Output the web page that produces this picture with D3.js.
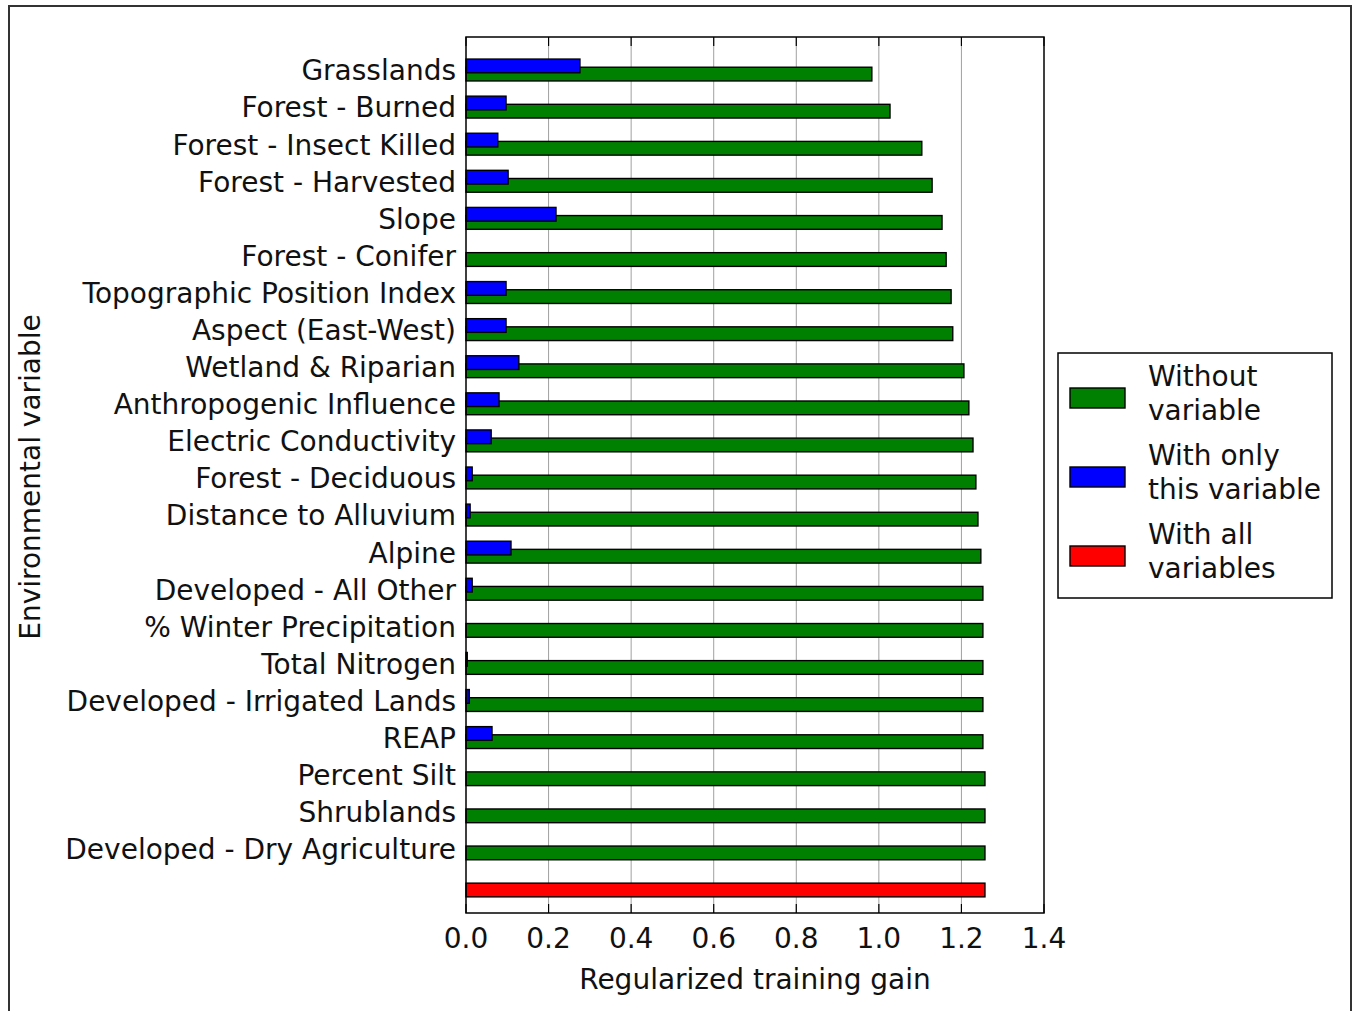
<!DOCTYPE html>
<html>
<head>
<meta charset="utf-8">
<script src="https://cdn.jsdelivr.net/npm/d3@7"></script>
<style>
  body { margin: 0; background: #fff; }
  text { font-family: "DejaVu Sans", sans-serif; fill: #111; }
</style>
</head>
<body>
<svg id="chart" width="1354" height="1011"></svg>
<script>
// variables, du haut vers le bas
const variables = [
  "Grasslands", "Forest - Burned", "Forest - Insect Killed", "Forest - Harvested",
  "Slope", "Forest - Conifer", "Topographic Position Index", "Aspect (East-West)",
  "Wetland & Riparian", "Anthropogenic Influence", "Electric Conductivity",
  "Forest - Deciduous", "Distance to Alluvium", "Alpine", "Developed - All Other",
  "% Winter Precipitation", "Total Nitrogen", "Developed - Irrigated Lands", "REAP",
  "Percent Silt", "Shrublands", "Developed - Dry Agriculture"
];

// gain sans la variable (vert)
const withoutVar = [
  0.983, 1.027, 1.104, 1.129, 1.153, 1.163, 1.175, 1.179, 1.206, 1.218, 1.228,
  1.235, 1.240, 1.247, 1.252, 1.252, 1.252, 1.252, 1.252, 1.257, 1.257, 1.257
];

// gain avec seulement la variable (bleu)
const onlyVar = [
  0.276, 0.097, 0.077, 0.102, 0.218, 0.0, 0.097, 0.097, 0.128, 0.080, 0.061,
  0.015, 0.010, 0.109, 0.015, 0.0, 0.003, 0.008, 0.063, 0.0, 0.0, 0.0
];

// gain avec toutes les variables (rouge)
const allVars = 1.257;

const xTicks = [0.0, 0.2, 0.4, 0.6, 0.8, 1.0, 1.2, 1.4];

const legendItems = [
  { color: "#008000", lines: ["Without", "variable"] },
  { color: "#0000ff", lines: ["With only", "this variable"] },
  { color: "#ff0000", lines: ["With all", "variables"] }
];

const fontSize = "28px";

const svg = d3.select("#chart");

// cadre exterieur de la figure
svg.append("path")
  .attr("d", "M9,1011 V6 H1351 V1011")
  .attr("fill", "none")
  .attr("stroke", "#333")
  .attr("stroke-width", 2);

const pLeft = 466, pRight = 1044, pTop = 37, pBottom = 913;

const x = d3.scaleLinear().domain([0, 1.4]).range([pLeft, pRight]);
const y = d3.scaleLinear().domain([-1, 22.62]).range([pTop, pBottom]);
const barH = y(0.37) - y(0);

const g = svg.append("g");

// grille verticale
g.selectAll(".grid")
  .data(xTicks.slice(1, -1))
  .enter()
  .append("line")
  .attr("x1", d => x(d)).attr("x2", d => x(d))
  .attr("y1", pTop).attr("y2", pBottom)
  .attr("stroke", "#a0a0a0")
  .attr("stroke-width", 1);

// barres vertes
g.selectAll(".green")
  .data(withoutVar)
  .enter()
  .append("rect")
  .attr("x", x(0))
  .attr("y", (d, i) => y(i) - barH / 2)
  .attr("width", d => x(d) - x(0))
  .attr("height", barH)
  .attr("fill", "#008000")
  .attr("stroke", "#000")
  .attr("stroke-width", 1.4);

// barres bleues (on garde l'index d'origine, on saute les zeros)
const blueData = onlyVar.map((v, i) => ({ v: v, i: i })).filter(d => d.v > 0);
g.selectAll(".blue")
  .data(blueData)
  .enter()
  .append("rect")
  .attr("x", x(0))
  .attr("y", d => y(d.i - 0.22) - barH / 2)
  .attr("width", d => x(d.v) - x(0))
  .attr("height", barH)
  .attr("fill", "#0000ff")
  .attr("stroke", "#000")
  .attr("stroke-width", 1.4);

// barre rouge
g.append("rect")
  .attr("x", x(0))
  .attr("y", y(variables.length) - barH / 2)
  .attr("width", x(allVars) - x(0))
  .attr("height", barH)
  .attr("fill", "#ff0000")
  .attr("stroke", "#000")
  .attr("stroke-width", 1.4);

// cadre du graphique
g.append("rect")
  .attr("x", pLeft).attr("y", pTop)
  .attr("width", pRight - pLeft).attr("height", pBottom - pTop)
  .attr("fill", "none")
  .attr("stroke", "#000")
  .attr("stroke-width", 1.5);

// ticks en haut et en bas (vers l'interieur)
xTicks.forEach(function (t) {
  g.append("line").attr("x1", x(t)).attr("x2", x(t))
    .attr("y1", pBottom).attr("y2", pBottom - 9)
    .attr("stroke", "#000").attr("stroke-width", 1.2);
  g.append("line").attr("x1", x(t)).attr("x2", x(t))
    .attr("y1", pTop).attr("y2", pTop + 9)
    .attr("stroke", "#000").attr("stroke-width", 1.2);
});

// libelles x
g.selectAll(".xlab")
  .data(xTicks)
  .enter()
  .append("text")
  .attr("x", d => x(d))
  .attr("y", 948)
  .attr("text-anchor", "middle")
  .style("font-size", fontSize)
  .text(d => d.toFixed(1));

// libelles y
g.selectAll(".ylab")
  .data(variables)
  .enter()
  .append("text")
  .attr("x", pLeft - 10)
  .attr("y", (d, i) => y(i - 0.1) + 10)
  .attr("text-anchor", "end")
  .style("font-size", fontSize)
  .text(d => d);

// titres des axes
svg.append("text")
  .attr("x", (pLeft + pRight) / 2)
  .attr("y", 989)
  .attr("text-anchor", "middle")
  .style("font-size", fontSize)
  .text("Regularized training gain");

svg.append("text")
  .attr("transform", "translate(40," + 477 + ") rotate(-90)")
  .attr("text-anchor", "middle")
  .style("font-size", fontSize)
  .text("Environmental variable");

// legende
const lg = svg.append("g");
lg.append("rect")
  .attr("x", 1058).attr("y", 353)
  .attr("width", 274).attr("height", 245)
  .attr("fill", "#fff")
  .attr("stroke", "#000")
  .attr("stroke-width", 1.5);

legendItems.forEach(function (item, k) {
  const cy = 398 + k * 79;
  lg.append("rect")
    .attr("x", 1070).attr("y", cy - 10)
    .attr("width", 55).attr("height", 20)
    .attr("fill", item.color)
    .attr("stroke", "#000")
    .attr("stroke-width", 1.4);
  item.lines.forEach(function (line, j) {
    lg.append("text")
      .attr("x", 1148)
      .attr("y", cy - 12 + j * 34)
      .style("font-size", fontSize)
      .text(line);
  });
});
</script>
</body>
</html>
